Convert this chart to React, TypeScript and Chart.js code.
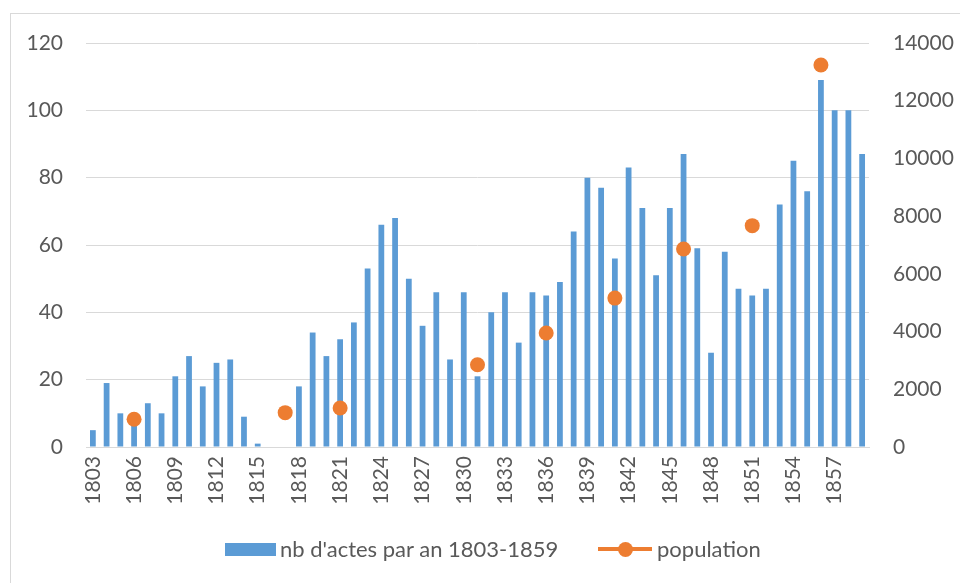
import React, { useEffect, useRef } from "react";
import { Chart, registerables } from "chart.js";

Chart.register(...registerables);

const years: string[] = [];
for (let y = 1803; y <= 1859; y++) years.push(String(y));

const actes: number[] = [
  5, 19, 10, 8, 13, 10, 21, 27, 18, 25, 26, 9, 1, 0, 0, 18, 34, 27, 32, 37,
  53, 66, 68, 50, 36, 46, 26, 46, 21, 40, 46, 31, 46, 45, 49, 64, 80, 77, 56,
  83, 71, 51, 71, 87, 59, 28, 58, 47, 45, 47, 72, 85, 76, 109, 100, 100, 87,
];

const popYears: string[] = ["1806", "1817", "1821", "1831", "1836", "1841", "1846", "1851", "1856"];
const popValues: number[] = [960, 1190, 1350, 2850, 3950, 5160, 6860, 7670, 13240];

const leftTicks: number[] = [0, 20, 40, 60, 80, 100, 120];
const rightTicks: number[] = [0, 2000, 4000, 6000, 8000, 10000, 12000, 14000];

const BLUE = "#5B9BD5";
const ORANGE = "#ED7D31";
const GRID = "#D9D9D9";
const TEXT = "#595959";
const FONT = "Lato, 'Open Sans', sans-serif";
const FS = 21;
const LFS = 22;

export default function App() {
  const ref = useRef<HTMLCanvasElement | null>(null);

  useEffect(() => {
    if (!ref.current) return;
    const population = years.map((y) => {
      const i = popYears.indexOf(y);
      return i >= 0 ? popValues[i] : null;
    });
    const chart = new Chart(ref.current, {
      type: "bar",
      data: {
        labels: years,
        datasets: [
          {
            type: "line",
            label: "population",
            data: population as any,
            yAxisID: "y1",
            borderColor: ORANGE,
            backgroundColor: ORANGE,
            borderWidth: 3,
            pointRadius: 7.5,
            pointBackgroundColor: ORANGE,
            pointBorderWidth: 0,
            spanGaps: false,
            order: 0,
          } as any,
          {
            type: "bar",
            label: "nb d'actes par an 1803-1859",
            data: actes,
            yAxisID: "y",
            backgroundColor: BLUE,
            categoryPercentage: 1,
            barPercentage: 0.42,
            order: 1,
          },
        ],
      },
      options: {
        responsive: false,
        animation: false,
        layout: { padding: { top: 43, left: 0, right: 0, bottom: 0 } },
        plugins: { legend: { display: false }, tooltip: { enabled: false } },
        scales: {
          x: {
            grid: { display: false, drawTicks: false },
            border: { display: true, color: GRID, width: 1 },
            ticks: {
              autoSkip: false,
              maxRotation: 90,
              minRotation: 90,
              padding: 9,
              color: TEXT,
              font: { family: FONT, size: FS },
              callback: (_v: any, i: number) => (i % 3 === 0 ? years[i] : ""),
            },
            afterFit: (s: any) => {
              s.height = 136;
            },
          },
          y: {
            position: "left",
            min: 0,
            max: 120,
            afterBuildTicks: (s: any) => {
              s.ticks = leftTicks.map((v) => ({ value: v }));
            },
            grid: { color: GRID, lineWidth: 1, drawTicks: false },
            border: { display: false },
            ticks: {
              padding: 23,
              color: TEXT,
              font: { family: FONT, size: FS },
              callback: (v: any) => String(v),
            },
            afterFit: (s: any) => {
              s.width = 86;
            },
          },
          y1: {
            position: "right",
            min: 0,
            max: 14000,
            afterBuildTicks: (s: any) => {
              s.ticks = rightTicks.map((v) => ({ value: v }));
            },
            grid: { drawOnChartArea: false, drawTicks: false },
            border: { display: false },
            ticks: {
              padding: 24,
              color: TEXT,
              font: { family: FONT, size: FS },
              callback: (v: any) => String(v),
            },
            afterFit: (s: any) => {
              s.width = 91;
            },
          },
        },
      },
    });
    return () => chart.destroy();
  }, []);

  const textStyle: React.CSSProperties = {
    position: "absolute",
    top: 549,
    transform: "translateY(-50%)",
    fontFamily: FONT,
    fontSize: LFS,
    color: TEXT,
    whiteSpace: "nowrap",
    lineHeight: 1,
  };

  return (
    <div
      style={{
        position: "fixed",
        left: 0,
        top: 0,
        width: 960,
        height: 583,
        overflow: "hidden",
        background: "#fff",
      }}
    >
      <div
        style={{
          position: "absolute",
          left: 10,
          top: 13,
          width: 1000,
          height: 700,
          border: `1px solid ${GRID}`,
          boxSizing: "border-box",
        }}
      />
      <canvas ref={ref} width={960} height={583} style={{ position: "absolute", left: 0, top: 0 }} />
      <div style={{ position: "absolute", left: 225, top: 543, width: 51, height: 13, background: BLUE }} />
      <div style={{ ...textStyle, left: 280 }}>nb d'actes par an 1803-1859</div>
      <div style={{ position: "absolute", left: 598, top: 547, width: 54, height: 4, background: ORANGE }} />
      <div
        style={{
          position: "absolute",
          left: 625 - 7.5,
          top: 549 - 7.5,
          width: 15,
          height: 15,
          borderRadius: "50%",
          background: ORANGE,
        }}
      />
      <div style={{ ...textStyle, left: 657 }}>population</div>
    </div>
  );
}
